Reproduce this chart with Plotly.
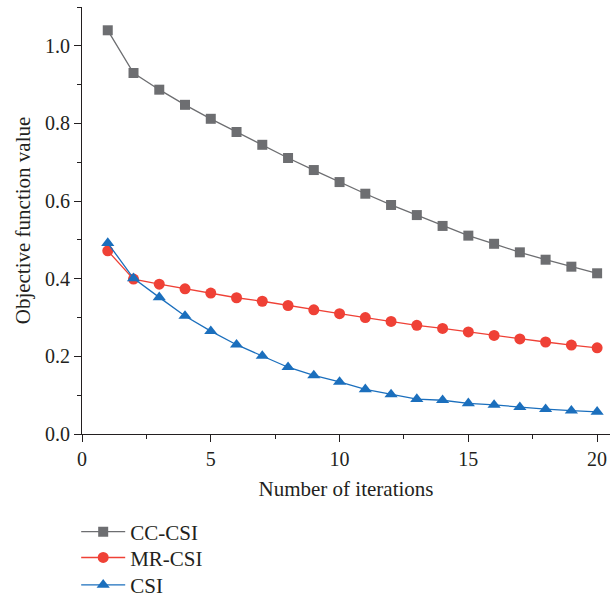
import plotly.graph_objects as go

iterations = list(range(1, 21))
cc_csi = [1.04, 0.930, 0.887, 0.848, 0.812, 0.778, 0.745, 0.711, 0.680, 0.649,
          0.619, 0.590, 0.564, 0.536, 0.511, 0.490, 0.468, 0.449, 0.431, 0.414]
mr_csi = [0.472, 0.399, 0.386, 0.374, 0.363, 0.351, 0.342, 0.331, 0.320, 0.310,
          0.300, 0.290, 0.280, 0.272, 0.263, 0.254, 0.245, 0.237, 0.229, 0.222]
csi = [0.492, 0.401, 0.352, 0.304, 0.265, 0.230, 0.201, 0.172, 0.151, 0.134,
       0.115, 0.102, 0.090, 0.087, 0.079, 0.075, 0.069, 0.064, 0.060, 0.057]

x_ticks = [0, 5, 10, 15, 20]
y_ticks = [0.0, 0.2, 0.4, 0.6, 0.8, 1.0]

font_family = "Liberation Serif"
txt = "#231f20"

fig = go.Figure()
fig.add_trace(go.Scatter(x=iterations, y=cc_csi, name="CC-CSI", mode="lines+markers",
                         line=dict(color="#6d6e71", width=1.3), legend="legend",
                         marker=dict(symbol="square", size=10, color="#6d6e71")))
fig.add_trace(go.Scatter(x=iterations, y=mr_csi, name="MR-CSI", mode="lines+markers",
                         line=dict(color="#ef4136", width=1.3), legend="legend2",
                         marker=dict(symbol="circle", size=11, color="#ef4136")))
fig.add_trace(go.Scatter(x=iterations, y=csi, name="CSI", mode="lines+markers",
                         line=dict(color="#1b6fbd", width=1.3), legend="legend3",
                         marker=dict(symbol="triangle-up", size=11.5, color="#1b6fbd")))

axis_common = dict(showline=True, linecolor=txt, linewidth=1.2, ticks="outside",
                   ticklen=7, tickwidth=1.2, tickcolor=txt, showgrid=False,
                   zeroline=False, automargin=False,
                   tickfont=dict(family=font_family, size=20, color=txt))

fig.update_xaxes(range=[0, 20.5], tickvals=x_ticks, ticktext=[str(v) for v in x_ticks],
                 minor=dict(ticks="outside", ticklen=4, tickwidth=1.2, tickcolor=txt, dtick=2.5, tick0=0),
                 title=dict(text="Number of iterations", font=dict(family=font_family, size=21, color=txt), standoff=12),
                 **axis_common)
fig.update_yaxes(range=[0, 1.1], tickvals=y_ticks, ticktext=["%.1f" % v for v in y_ticks],
                 minor=dict(ticks="outside", ticklen=4, tickwidth=1.2, tickcolor=txt, dtick=0.1, tick0=0),
                 title=dict(text="Objective function value", font=dict(family=font_family, size=21, color=txt), standoff=8),
                 **axis_common)

legend_common = dict(x=-0.011, xanchor="left", yanchor="middle",
                     font=dict(family=font_family, size=21, color=txt),
                     itemwidth=44, bgcolor="rgba(0,0,0,0)")

fig.update_layout(
    width=610, height=597,
    margin=dict(l=82, r=0, t=7, b=163, autoexpand=False),
    paper_bgcolor="white", plot_bgcolor="white",
    showlegend=True,
    legend=dict(y=-0.2295, **legend_common),
    legend2=dict(y=-0.290, **legend_common),
    legend3=dict(y=-0.354, **legend_common),
)

fig.write_html("out.html", config={"displayModeBar": False},
               post_script="document.body.style.margin='0';document.body.style.overflow='hidden';")
